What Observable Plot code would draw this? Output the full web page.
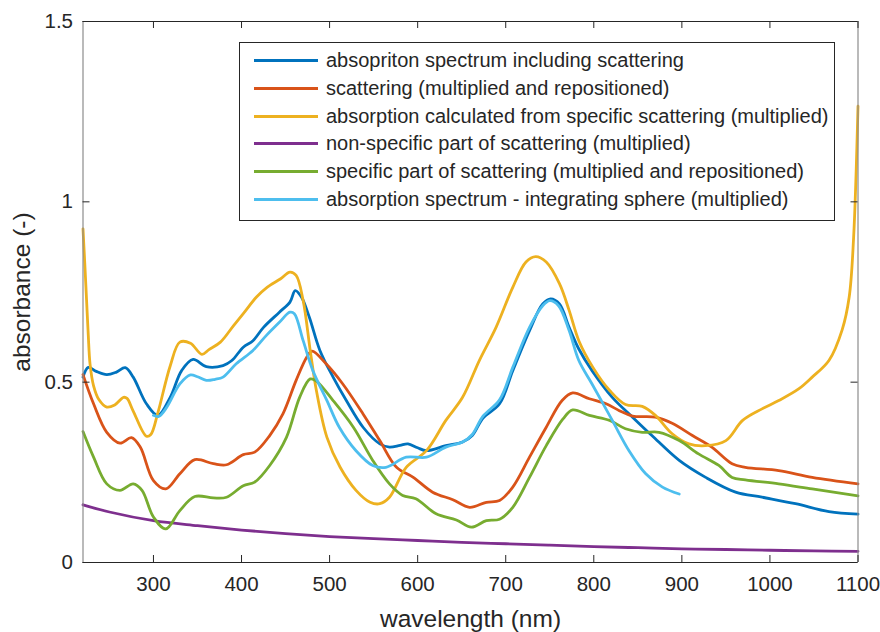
<!DOCTYPE html>
<html>
<head>
<meta charset="utf-8">
<script src="https://cdn.jsdelivr.net/npm/d3@7"></script>
<script src="https://cdn.jsdelivr.net/npm/@observablehq/plot@0.6"></script>
<style>
  html, body { margin: 0; padding: 0; background: #fff; }
  #chart { position: relative; width: 880px; height: 632px; overflow: hidden; font-family: "Liberation Sans", Arial, sans-serif; color: #262626; }
  #legend { position: absolute; left: 239px; top: 42px; width: 594px; height: 173px; border: 1px solid #262626; background: #fff; padding-top: 4px; box-sizing: content-box; }
  .row { display: flex; align-items: center; height: 27.7px; font-size: 20px; white-space: nowrap; }
  .swatch { width: 64px; height: 3px; margin-left: 14px; margin-right: 8px; }
  #ylabel { position: absolute; left: 22px; top: 292px; font-size: 24.5px; white-space: nowrap; transform: translate(-50%, -50%) rotate(-90deg); }
</style>
</head>
<body>
<div id="chart"></div>
<script>
// Wavelength (nm) / absorbance pairs for each spectrum
const absIncludingScattering = [
  [220,0.514],[226,0.541],[235,0.530],[247,0.521],[258,0.528],[268,0.540],[277,0.514],[292,0.440],
  [305,0.408],[319,0.458],[332,0.532],[345,0.563],[360,0.543],[379,0.546],[389,0.560],[402,0.597],
  [413,0.615],[425,0.652],[443,0.694],[455,0.722],[461,0.754],[468,0.736],[477,0.680],[489,0.588],
  [504,0.514],[519,0.449],[538,0.375],[557,0.329],[568,0.320],[580,0.325],[589,0.329],[600,0.318],
  [610,0.310],[632,0.324],[651,0.334],[662,0.352],[674,0.400],[693,0.440],[708,0.532],[727,0.643],
  [742,0.717],[751,0.731],[761,0.717],[772,0.652],[783,0.592],[798,0.532],[821,0.458],[844,0.403],
  [866,0.352],[897,0.283],[927,0.236],[961,0.195],[991,0.181],[1029,0.163],[1067,0.141],[1100,0.134]
];
const scattering = [
  [220,0.521],[232,0.440],[247,0.361],[262,0.331],[275,0.346],[285,0.320],[300,0.227],[314,0.204],
  [330,0.246],[347,0.285],[368,0.274],[383,0.271],[402,0.299],[415,0.306],[432,0.352],[447,0.412],
  [462,0.505],[474,0.569],[480,0.586],[496,0.551],[515,0.495],[538,0.412],[557,0.338],[576,0.264],
  [595,0.236],[617,0.195],[640,0.174],[659,0.153],[678,0.167],[693,0.172],[708,0.209],[727,0.292],
  [746,0.375],[764,0.449],[776,0.470],[795,0.454],[814,0.440],[829,0.421],[844,0.406],[870,0.403],
  [889,0.386],[912,0.352],[934,0.320],[957,0.274],[972,0.264],[1010,0.255],[1048,0.236],[1100,0.218]
];
const absFromSpecificScattering = [
  [220,0.925],[222,0.830],[224,0.730],[226,0.630],[228,0.550],[232,0.490],[238,0.452],[247,0.431],
  [256,0.437],[266,0.458],[270,0.455],[277,0.420],[292,0.350],[297,0.355],[305,0.415],[319,0.545],
  [330,0.611],[342,0.608],[355,0.577],[363,0.590],[376,0.611],[391,0.657],[402,0.690],[417,0.736],
  [429,0.763],[444,0.786],[455,0.805],[462,0.796],[470,0.726],[478,0.588],[485,0.477],[497,0.347],
  [512,0.264],[530,0.200],[546,0.167],[557,0.163],[568,0.181],[587,0.264],[610,0.310],[632,0.394],
  [651,0.458],[670,0.560],[689,0.652],[708,0.763],[723,0.833],[734,0.848],[746,0.833],[761,0.773],
  [772,0.699],[783,0.615],[799,0.541],[818,0.477],[836,0.438],[855,0.433],[870,0.408],[889,0.357],
  [908,0.329],[927,0.324],[950,0.338],[969,0.394],[991,0.426],[1010,0.449],[1033,0.482],[1048,0.514],
  [1067,0.560],[1082,0.645],[1090,0.736],[1095,0.900],[1100,1.265]
];
const nonSpecificScattering = [
  [220,0.160],[250,0.140],[300,0.116],[350,0.102],[400,0.090],[450,0.080],[500,0.072],[550,0.066],
  [600,0.061],[650,0.056],[700,0.052],[750,0.048],[800,0.044],[850,0.041],[900,0.038],[950,0.036],
  [1000,0.034],[1050,0.032],[1100,0.031]
];
const specificScattering = [
  [220,0.363],[232,0.292],[247,0.218],[262,0.200],[277,0.218],[287,0.200],[300,0.126],[314,0.093],
  [330,0.144],[347,0.183],[368,0.179],[383,0.181],[402,0.213],[415,0.223],[432,0.269],[451,0.347],
  [466,0.458],[478,0.509],[485,0.503],[504,0.449],[527,0.375],[549,0.283],[568,0.218],[583,0.186],
  [598,0.177],[621,0.135],[644,0.118],[661,0.098],[678,0.116],[693,0.120],[708,0.153],[727,0.236],
  [746,0.324],[765,0.398],[776,0.423],[795,0.408],[818,0.394],[836,0.371],[855,0.361],[874,0.361],
  [897,0.338],[919,0.301],[942,0.269],[957,0.236],[972,0.229],[1010,0.218],[1048,0.204],[1100,0.185]
];
const integratingSphere = [
  [300,0.408],[306,0.405],[315,0.430],[330,0.495],[342,0.520],[350,0.515],[360,0.505],[370,0.508],
  [379,0.514],[394,0.551],[413,0.588],[428,0.629],[443,0.666],[455,0.694],[460,0.690],[470,0.615],
  [481,0.532],[497,0.449],[511,0.375],[530,0.310],[549,0.269],[564,0.264],[587,0.292],[610,0.292],
  [632,0.320],[651,0.334],[662,0.355],[674,0.405],[693,0.451],[708,0.541],[727,0.652],[742,0.712],
  [750,0.726],[760,0.712],[772,0.643],[783,0.560],[798,0.495],[821,0.394],[840,0.310],[859,0.246],
  [878,0.209],[897,0.190]
];

const seriesNames = [
  "absopriton spectrum including scattering",
  "scattering (multiplied and repositioned)",
  "absorption calculated from specific scattering (multiplied)",
  "non-specific part of scattering (multiplied)",
  "specific part of scattering (multiplied and repositioned)",
  "absorption spectrum - integrating sphere (multiplied)"
];
const seriesColors = ["#0072BD", "#D95319", "#EDB120", "#7E2F8E", "#77AC30", "#4DBEEE"];
const seriesData = [absIncludingScattering, scattering, absFromSpecificScattering,
                    nonSpecificScattering, specificScattering, integratingSphere];

const xTicks = [300, 400, 500, 600, 700, 800, 900, 1000, 1100];
const yTicks = [0, 0.5, 1, 1.5];
const yTickLabels = ["0", "0.5", "1", "1.5"];

const W = 880, H = 632;
const mL = 82.5, mR = 22.5, mT = 21, mB = 70;
const innerW = W - mL - mR, innerH = H - mT - mB;
const tickLen = 7;
const ink = "#262626";

const lines = seriesData.map((pts, i) =>
  Plot.line(pts, {x: d => d[0], y: d => d[1], stroke: seriesColors[i], strokeWidth: 2.8, curve: "catmull-rom"})
);

const plot = Plot.plot({
  width: W, height: H,
  marginLeft: mL, marginRight: mR, marginTop: mT, marginBottom: mB,
  x: {domain: [220, 1100]},
  y: {domain: [0, 1.5]},
  axis: null,
  style: {fontFamily: "'Liberation Sans', Arial, sans-serif", fontSize: "20.5px", color: ink, background: "#fff", overflow: "visible"},
  marks: [
    ...lines,
    // box: dark horizontal edges, grey vertical edges
    Plot.ruleY([0, 1.5], {stroke: ink, strokeWidth: 1}),
    Plot.ruleX([220, 1100], {stroke: "#8c8c8c", strokeWidth: 1.2}),
    // inward ticks on all four sides
    Plot.tickX(xTicks, {x: d => d, insetTop: innerH - tickLen, stroke: ink}),
    Plot.tickX(xTicks, {x: d => d, insetBottom: innerH - tickLen, stroke: ink}),
    Plot.tickY(yTicks, {y: d => d, insetRight: innerW - tickLen, stroke: ink}),
    Plot.tickY(yTicks, {y: d => d, insetLeft: innerW - tickLen, stroke: ink}),
    // tick labels
    Plot.text(xTicks, {x: d => d, frameAnchor: "bottom", dy: 28, text: d => String(d), fill: ink}),
    Plot.text(yTicks, {y: d => d, frameAnchor: "left", dx: -10, textAnchor: "end", text: (d, i) => yTickLabels[i], fill: ink}),
    // x axis title
    Plot.text(["wavelength (nm)"], {frameAnchor: "bottom", dy: 64, fontSize: 24.5, fill: ink})
  ]
});

const chart = document.getElementById("chart");
chart.appendChild(plot);

const ylabel = document.createElement("div");
ylabel.id = "ylabel";
ylabel.textContent = "absorbance (-)";
chart.appendChild(ylabel);

const legend = document.createElement("div");
legend.id = "legend";
seriesNames.forEach((name, i) => {
  const row = document.createElement("div");
  row.className = "row";
  const sw = document.createElement("div");
  sw.className = "swatch";
  sw.style.background = seriesColors[i];
  const label = document.createElement("span");
  label.textContent = name;
  row.appendChild(sw);
  row.appendChild(label);
  legend.appendChild(row);
});
chart.appendChild(legend);
</script>
</body>
</html>
